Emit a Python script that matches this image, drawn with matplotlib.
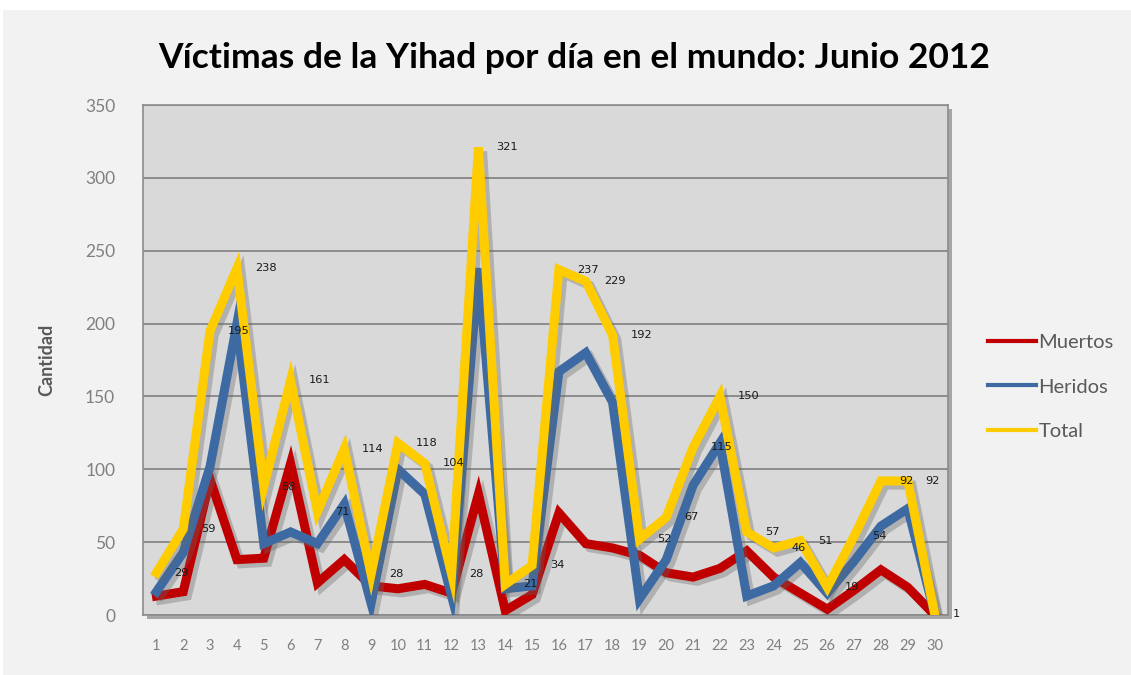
import matplotlib
matplotlib.use("Agg")
import matplotlib.pyplot as plt
import matplotlib.patheffects as pe
from matplotlib.lines import Line2D
from matplotlib.patches import Rectangle

# datos: junio 2012
dias = list(range(1, 31))
muertos = [13, 16, 93, 38, 39, 104, 22, 38, 20, 18, 21, 15, 83, 3, 14,
           70, 49, 46, 41, 29, 26, 32, 44, 26, 15, 4, 17, 31, 19, 0]
heridos = [16, 43, 102, 200, 49, 57, 49, 76, 8, 100, 83, 13, 238, 18, 20,
           167, 180, 146, 11, 38, 89, 118, 13, 20, 36, 15, 37, 61, 73, 1]
total = [29, 59, 195, 238, 88, 161, 71, 114, 28, 118, 104, 28, 321, 21, 34,
         237, 229, 192, 52, 67, 115, 150, 57, 46, 51, 19, 54, 92, 92, 1]
series = ["Muertos", "Heridos", "Total"]
colores = ["#c00000", "#3e6aa3", "#ffcc00"]

W, H = 1131, 675
fig = plt.figure(figsize=(W / 100, H / 100), dpi=100)
fig.patch.set_facecolor("white")

# fondo del grafico
fig.patches.append(Rectangle((3 / W, 0), 1 - 3 / W, 1 - 10 / H, transform=fig.transFigure,
                             facecolor="#f2f2f2", edgecolor="none", zorder=-10))

left, right, bottom, top = 143 / W, 948 / W, 1 - 615 / H, 1 - 105 / H
# sombra del area de trazado
fig.patches.append(Rectangle((left + 4 / W, bottom - 4 / H), right - left, top - bottom,
                             transform=fig.transFigure, facecolor="#a6a6a6",
                             edgecolor="none", zorder=-5))
ax = fig.add_axes([left, bottom, right - left, top - bottom])
ax.set_facecolor("#d9d9d9")

for nombre, vals, c, z in zip(series, [muertos, heridos, total], colores, [3, 4, 5]):
    ax.plot(dias, vals, color=c, lw=6.5, zorder=z, solid_joinstyle="miter",
            path_effects=[pe.SimpleLineShadow(offset=(3, -3), shadow_color="#666666", alpha=0.35),
                          pe.Normal()])

# etiquetas de datos (Total)
for d, v in zip(dias, total):
    ax.annotate(str(v), (d, v), xytext=(18, 0), textcoords="offset pixels",
                ha="left", va="center", fontsize=8.2, color="#1a1a1a",
                family="DejaVu Sans", zorder=10)

ax.set_xlim(0.5, 30.5)
ax.set_ylim(0, 350)
ax.set_xticks(dias)
ax.set_yticks(range(0, 351, 50))
ax.grid(axis="y", color="#868686", lw=1.3, zorder=0)
ax.set_axisbelow(True)
ax.tick_params(axis="both", length=0, colors="#808080")
ax.tick_params(axis="x", pad=17, labelsize=10.5)
ax.tick_params(axis="y", pad=20, labelsize=12.5)
for lab in ax.get_xticklabels() + ax.get_yticklabels():
    lab.set_family("Lato")
for s in ax.spines.values():
    s.set_color("#8c8c8c")
    s.set_linewidth(1.2)

ax.set_ylabel("Cantidad", fontsize=13, fontweight="bold", color="#595959", family="Lato")
ax.yaxis.set_label_coords(-0.109, 0.5)

fig.suptitle("Víctimas de la Yihad por día en el mundo: Junio 2012", x=574 / W, y=1 - 58 / H,
             va="center", fontsize=25.5, fontweight="bold", family="Lato", color="black")

handles = [Line2D([], [], color=c, lw=3) for c in colores]
leg = fig.legend(handles, series, loc="upper left", bbox_to_anchor=(970 / W, 1 - 316 / H),
                 frameon=False, handlelength=2.4, handletextpad=0.1,
                 labelspacing=1.35, prop={"family": "Lato", "size": 14.5})
for t in leg.get_texts():
    t.set_color("#595959")

fig.savefig("out.png", dpi=100, facecolor=fig.get_facecolor())
